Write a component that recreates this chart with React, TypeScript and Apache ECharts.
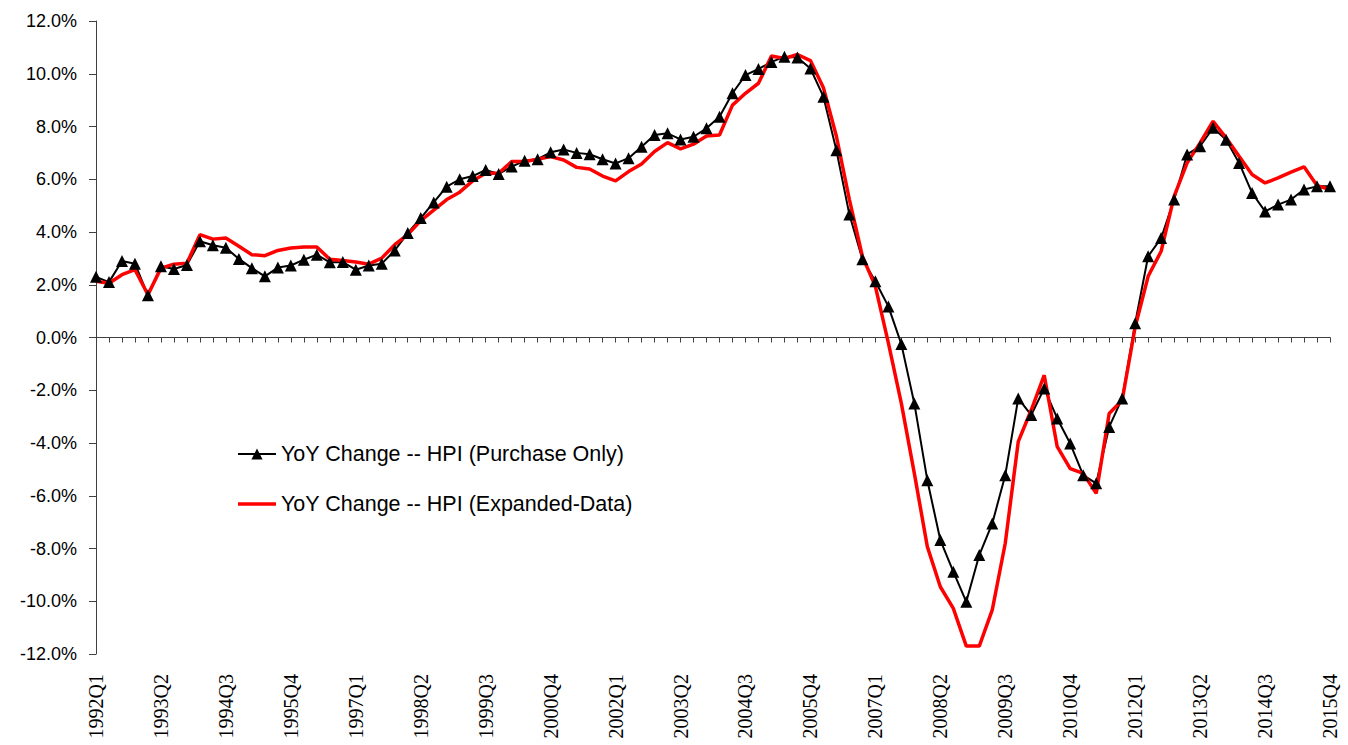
import React, { useEffect, useRef } from "react";
import * as echarts from "echarts";

const quarters: string[] = [];
for (let y = 1992; y <= 2015; y++) {
  for (let q = 1; q <= 4; q++) quarters.push(`${y}Q${q}`);
}

const purchaseOnly: number[] = [
  2.3, 2.1, 2.9, 2.8, 1.6, 2.7, 2.6, 2.75, 3.65, 3.5,
  3.4, 2.98, 2.63, 2.32, 2.65, 2.73, 2.95, 3.14, 2.85, 2.86,
  2.57, 2.73, 2.8, 3.3, 3.96, 4.53, 5.12, 5.72, 6.0, 6.12,
  6.35, 6.2, 6.48, 6.7, 6.76, 7.02, 7.13, 7.0, 6.95, 6.76,
  6.6, 6.8, 7.23, 7.68, 7.74, 7.51, 7.61, 7.93, 8.37, 9.26,
  9.95, 10.18, 10.45, 10.64, 10.62, 10.2, 9.13, 7.1, 4.66, 2.97,
  2.13, 1.18, -0.25, -2.5, -5.41, -7.68, -8.88, -10.02, -8.25, -7.05,
  -5.22, -2.31, -2.94, -1.93, -3.07, -4.02, -5.22, -5.53, -3.39, -2.31,
  0.54, 3.08, 3.77, 5.23, 6.94, 7.25, 7.95, 7.5, 6.62, 5.48,
  4.78, 5.04, 5.23, 5.61, 5.73, 5.73,
];

const expandedData: number[] = [
  2.13, 2.06, 2.38, 2.57, 1.62, 2.63, 2.78, 2.82, 3.9, 3.73,
  3.77, 3.46, 3.14, 3.1, 3.3, 3.39, 3.43, 3.43, 2.97, 2.92,
  2.86, 2.78, 3.01, 3.52, 3.9, 4.43, 4.83, 5.23, 5.51, 5.94,
  6.23, 6.23, 6.67, 6.67, 6.76, 6.86, 6.73, 6.45, 6.39, 6.12,
  5.94, 6.29, 6.58, 7.05, 7.39, 7.15, 7.33, 7.64, 7.68, 8.81,
  9.26, 9.64, 10.67, 10.58, 10.73, 10.5, 9.47, 7.63, 5.23, 3.08,
  1.94, -0.2, -2.5, -5.15, -7.93, -9.45, -10.27, -11.7, -11.7, -10.33,
  -7.8, -3.95, -2.75, -1.43, -4.14, -4.97, -5.15, -5.91, -2.88, -2.38,
  0.4, 2.32, 3.27, 5.35, 6.62, 7.38, 8.2, 7.57, 6.87, 6.18,
  5.86, 6.05, 6.27, 6.47, 5.76, 5.61,
];

const seriesNames = [
  "YoY Change -- HPI (Purchase Only)",
  "YoY Change -- HPI (Expanded-Data)",
];

const FONT = "'Liberation Sans', Arial, sans-serif";
const SERIF = "'Liberation Serif', 'Times New Roman', serif";
const AXIS_COLOR = "#404040";

export default function App() {
  const ref = useRef<HTMLDivElement>(null);
  useEffect(() => {
    if (!ref.current) return;
    const chart = echarts.init(ref.current, null, { renderer: "svg" });
    chart.setOption({
      animation: false,
      backgroundColor: "#ffffff",
      textStyle: { fontFamily: FONT },
      grid: { left: 96, right: 18, top: 21, bottom: 91, containLabel: false },
      legend: {
        orient: "vertical",
        left: 232,
        top: 437,
        itemGap: 26,
        itemWidth: 38,
        itemHeight: 14,
        textStyle: { fontSize: 21.5, color: "#000", fontFamily: FONT, lineHeight: 24 },
        data: [
          { name: seriesNames[0] },
          { name: seriesNames[1], icon: "path://M0 0H38V3.5H0Z" },
        ],
      },
      xAxis: [
        {
          type: "category",
          data: quarters,
          boundaryGap: false,
          position: "top",
          axisLine: { onZero: true, lineStyle: { color: AXIS_COLOR, width: 1 } },
          axisTick: { show: true, inside: true, interval: 0, length: 5, lineStyle: { color: AXIS_COLOR } },
          axisLabel: { show: false },
          splitLine: { show: false },
        },
        {
          type: "category",
          data: quarters,
          boundaryGap: false,
          position: "bottom",
          axisLine: { show: false, onZero: false },
          axisTick: { show: false },
          axisLabel: {
            show: true,
            interval: 4,
            rotate: 90,
            margin: 20,
            fontSize: 20,
            color: "#000",
            fontFamily: SERIF,
          },
          splitLine: { show: false },
        },
      ],
      yAxis: {
        type: "value",
        min: -12,
        max: 12,
        interval: 2,
        axisLine: { show: true, onZero: false, lineStyle: { color: AXIS_COLOR, width: 1 } },
        axisTick: { show: true, length: 7, lineStyle: { color: AXIS_COLOR } },
        splitLine: { show: false },
        axisLabel: {
          margin: 19,
          fontSize: 18,
          color: "#000",
          fontFamily: FONT,
          formatter: (v: number) => v.toFixed(1) + "%",
        },
      },
      series: [
        {
          name: seriesNames[0],
          type: "line",
          xAxisIndex: 0,
          data: purchaseOnly,
          symbol: "triangle",
          symbolSize: 12,
          showAllSymbol: true,
          color: "#000000",
          itemStyle: { color: "#000000" },
          lineStyle: { color: "#000000", width: 2 },
        },
        {
          name: seriesNames[1],
          type: "line",
          xAxisIndex: 0,
          data: expandedData,
          symbol: "none",
          showSymbol: false,
          color: "#ff0000",
          itemStyle: { color: "#ff0000" },
          lineStyle: { color: "#ff0000", width: 3.5 },
        },
      ],
    });
    return () => chart.dispose();
  }, []);
  return (
    <div
      ref={ref}
      style={{ position: "fixed", left: 0, top: 0, width: 1348, height: 745, background: "#fff" }}
    />
  );
}
